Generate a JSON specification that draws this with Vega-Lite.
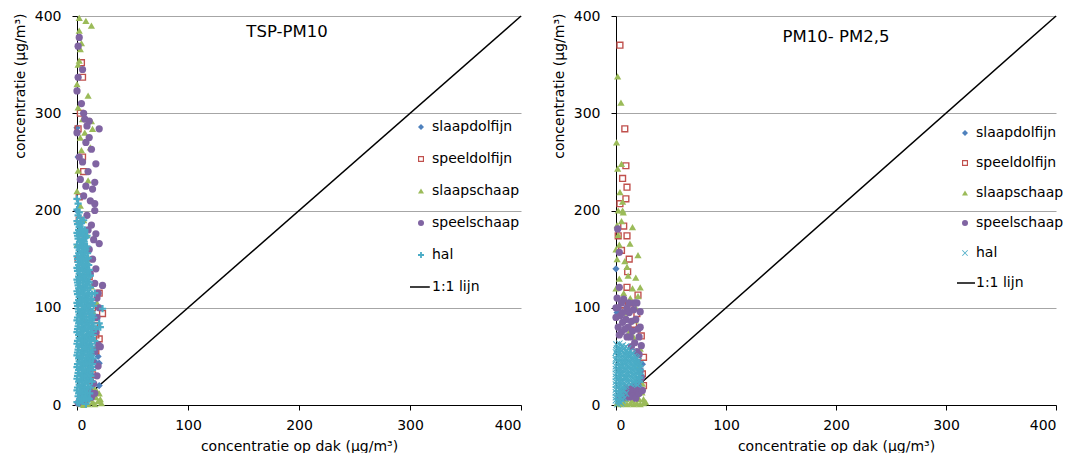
{
"$schema": "https://vega.github.io/schema/vega-lite/v6.json",
"padding": {"left": 13, "top": 9, "right": 5, "bottom": 0},
"background": "white",
"config": {
  "font": "DejaVu Sans",
  "view": {"stroke": null},
  "concat": {"spacing": 28},
  "axis": {"domainColor": "black", "tickColor": "black", "tickSize": 5, "labelFontSize": 14, "titleFontSize": 14, "titleFontWeight": "normal", "labelColor": "black", "titleColor": "black", "labelFont": "DejaVu Sans", "titleFont": "DejaVu Sans"},
  "legend": {"orient": "none", "title": null, "labelFont": "DejaVu Sans", "labelFontSize": 14, "labelColor": "black", "symbolSize": 36, "symbolStrokeWidth": 0, "padding": 0, "symbolOpacity": 1},
  "title": {"font": "DejaVu Sans", "fontWeight": "normal", "color": "black", "frame": "group"}
},
"datasets": {
"diag": [{"x": 0, "y": 0}, {"x": 400, "y": 400}],
"left": [
{"s":"slaapdolfijn","x":20,"y":20},{"s":"slaapdolfijn","x":20,"y":43},{"s":"slaapdolfijn","x":19,"y":50},{"s":"slaapdolfijn","x":17,"y":58},{"s":"slaapdolfijn","x":14,"y":30},{"s":"slaapdolfijn","x":1,"y":255},{"s":"slaapdolfijn","x":0,"y":285},{"s":"slaapdolfijn","x":10,"y":35},{"s":"slaapdolfijn","x":16,"y":45},{"s":"slaapdolfijn","x":5,"y":10},{"s":"slaapdolfijn","x":2,"y":140},{"s":"slaapdolfijn","x":0,"y":200},
{"s":"speeldolfijn","x":4,"y":352},{"s":"speeldolfijn","x":5,"y":337},{"s":"speeldolfijn","x":1,"y":284},{"s":"speeldolfijn","x":5,"y":255},{"s":"speeldolfijn","x":2,"y":214},{"s":"speeldolfijn","x":5,"y":176},{"s":"speeldolfijn","x":1,"y":150},{"s":"speeldolfijn","x":20,"y":115},{"s":"speeldolfijn","x":23,"y":94},{"s":"speeldolfijn","x":17,"y":72},{"s":"speeldolfijn","x":20,"y":68},{"s":"speeldolfijn","x":17,"y":56},{"s":"speeldolfijn","x":14,"y":31},{"s":"speeldolfijn","x":12,"y":25},{"s":"speeldolfijn","x":3,"y":300},{"s":"speeldolfijn","x":8,"y":160},{"s":"speeldolfijn","x":11,"y":132},{"s":"speeldolfijn","x":14,"y":100},{"s":"speeldolfijn","x":6,"y":240},{"s":"speeldolfijn","x":2,"y":190},{"s":"speeldolfijn","x":9,"y":88},{"s":"speeldolfijn","x":16,"y":82},
{"s":"slaapschaap","x":2,"y":398},{"s":"slaapschaap","x":8,"y":395},{"s":"slaapschaap","x":13,"y":390},{"s":"slaapschaap","x":2,"y":385},{"s":"slaapschaap","x":4,"y":372},{"s":"slaapschaap","x":3,"y":366},{"s":"slaapschaap","x":2,"y":354},{"s":"slaapschaap","x":10,"y":318},{"s":"slaapschaap","x":1,"y":306},{"s":"slaapschaap","x":5,"y":294},{"s":"slaapschaap","x":13,"y":292},{"s":"slaapschaap","x":14,"y":284},{"s":"slaapschaap","x":3,"y":275},{"s":"slaapschaap","x":1,"y":241},{"s":"slaapschaap","x":10,"y":231},{"s":"slaapschaap","x":4,"y":262},{"s":"slaapschaap","x":12,"y":265},{"s":"slaapschaap","x":7,"y":280},{"s":"slaapschaap","x":0,"y":330},{"s":"slaapschaap","x":1,"y":350},{"s":"slaapschaap","x":0,"y":220},{"s":"slaapschaap","x":3,"y":205},{"s":"slaapschaap","x":6,"y":190},{"s":"slaapschaap","x":9,"y":175},{"s":"slaapschaap","x":0,"y":165},{"s":"slaapschaap","x":11,"y":150},{"s":"slaapschaap","x":13,"y":122},{"s":"slaapschaap","x":18,"y":105},{"s":"slaapschaap","x":15,"y":95},{"s":"slaapschaap","x":20,"y":12},{"s":"slaapschaap","x":17,"y":8},{"s":"slaapschaap","x":22,"y":2},{"s":"slaapschaap","x":19,"y":4},{"s":"slaapschaap","x":14,"y":3},{"s":"slaapschaap","x":12,"y":6},{"s":"slaapschaap","x":16,"y":1},{"s":"slaapschaap","x":10,"y":1},{"s":"slaapschaap","x":8,"y":2},{"s":"slaapschaap","x":21,"y":6},{"s":"slaapschaap","x":18,"y":14},{"s":"slaapschaap","x":6,"y":0},{"s":"slaapschaap","x":3,"y":1},{"s":"slaapschaap","x":13,"y":10},{"s":"slaapschaap","x":15,"y":18},{"s":"slaapschaap","x":11,"y":40},{"s":"slaapschaap","x":12,"y":60},
{"s":"speelschaap","x":2,"y":378},{"s":"speelschaap","x":1,"y":369},{"s":"speelschaap","x":1,"y":337},{"s":"speelschaap","x":5,"y":345},{"s":"speelschaap","x":0,"y":323},{"s":"speelschaap","x":7,"y":294},{"s":"speelschaap","x":11,"y":292},{"s":"speelschaap","x":20,"y":284},{"s":"speelschaap","x":9,"y":287},{"s":"speelschaap","x":11,"y":275},{"s":"speelschaap","x":17,"y":248},{"s":"speelschaap","x":2,"y":255},{"s":"speelschaap","x":13,"y":263},{"s":"speelschaap","x":16,"y":229},{"s":"speelschaap","x":14,"y":222},{"s":"speelschaap","x":16,"y":207},{"s":"speelschaap","x":16,"y":200},{"s":"speelschaap","x":20,"y":166},{"s":"speelschaap","x":17,"y":176},{"s":"speelschaap","x":23,"y":123},{"s":"speelschaap","x":19,"y":115},{"s":"speelschaap","x":8,"y":270},{"s":"speelschaap","x":5,"y":250},{"s":"speelschaap","x":3,"y":232},{"s":"speelschaap","x":10,"y":240},{"s":"speelschaap","x":12,"y":210},{"s":"speelschaap","x":6,"y":215},{"s":"speelschaap","x":9,"y":195},{"s":"speelschaap","x":13,"y":185},{"s":"speelschaap","x":15,"y":170},{"s":"speelschaap","x":11,"y":160},{"s":"speelschaap","x":14,"y":150},{"s":"speelschaap","x":17,"y":140},{"s":"speelschaap","x":12,"y":135},{"s":"speelschaap","x":16,"y":125},{"s":"speelschaap","x":18,"y":110},{"s":"speelschaap","x":15,"y":90},{"s":"speelschaap","x":17,"y":75},{"s":"speelschaap","x":13,"y":68},{"s":"speelschaap","x":19,"y":62},{"s":"speelschaap","x":16,"y":55},{"s":"speelschaap","x":14,"y":45},{"s":"speelschaap","x":12,"y":38},{"s":"speelschaap","x":18,"y":30},{"s":"speelschaap","x":15,"y":22},{"s":"speelschaap","x":11,"y":15},{"s":"speelschaap","x":13,"y":8},{"s":"speelschaap","x":9,"y":12},{"s":"speelschaap","x":7,"y":5},{"s":"speelschaap","x":16,"y":12},{"s":"speelschaap","x":10,"y":28},{"s":"speelschaap","x":5,"y":18},{"s":"speelschaap","x":3,"y":8},{"s":"speelschaap","x":1,"y":2},{"s":"speelschaap","x":19,"y":40},{"s":"speelschaap","x":21,"y":60},{"s":"speelschaap","x":18,"y":90},{"s":"speelschaap","x":20,"y":100},{"s":"speelschaap","x":8,"y":225},{"s":"speelschaap","x":4,"y":310},{"s":"speelschaap","x":6,"y":300},{"s":"speelschaap","x":10,"y":180},{"s":"speelschaap","x":0,"y":280},
{"s":"hal","x":0,"y":212},{"s":"hal","x":1,"y":207},{"s":"hal","x":0,"y":201},{"s":"hal","x":2,"y":198},{"s":"hal","x":1,"y":195},{"s":"hal","x":3,"y":192},{"s":"hal","x":0,"y":189},{"s":"hal","x":4,"y":187},{"s":"hal","x":6,"y":190},{"s":"hal","x":2,"y":183},{"s":"hal","x":5,"y":181},{"s":"hal","x":0,"y":177},{"s":"hal","x":3,"y":176},{"s":"hal","x":7,"y":178},{"s":"hal","x":1,"y":171},{"s":"hal","x":5,"y":170},{"s":"hal","x":8,"y":172},{"s":"hal","x":0,"y":165},{"s":"hal","x":3,"y":164},{"s":"hal","x":6,"y":166},{"s":"hal","x":9,"y":163},{"s":"hal","x":2,"y":159},{"s":"hal","x":5,"y":158},{"s":"hal","x":8,"y":160},{"s":"hal","x":0,"y":153},{"s":"hal","x":4,"y":152},{"s":"hal","x":7,"y":154},{"s":"hal","x":10,"y":151},{"s":"hal","x":1,"y":147},{"s":"hal","x":3,"y":146},{"s":"hal","x":6,"y":148},{"s":"hal","x":9,"y":145},{"s":"hal","x":0,"y":141},{"s":"hal","x":4,"y":140},{"s":"hal","x":8,"y":142},{"s":"hal","x":11,"y":139},{"s":"hal","x":2,"y":135},{"s":"hal","x":5,"y":134},{"s":"hal","x":9,"y":136},{"s":"hal","x":12,"y":133},{"s":"hal","x":0,"y":129},{"s":"hal","x":3,"y":128},{"s":"hal","x":7,"y":130},{"s":"hal","x":10,"y":127},{"s":"hal","x":1,"y":123},{"s":"hal","x":5,"y":122},{"s":"hal","x":8,"y":124},{"s":"hal","x":12,"y":121},{"s":"hal","x":0,"y":117},{"s":"hal","x":4,"y":116},{"s":"hal","x":7,"y":118},{"s":"hal","x":11,"y":115},{"s":"hal","x":16,"y":115},{"s":"hal","x":2,"y":111},{"s":"hal","x":5,"y":110},{"s":"hal","x":9,"y":112},{"s":"hal","x":13,"y":109},{"s":"hal","x":0,"y":105},{"s":"hal","x":3,"y":104},{"s":"hal","x":7,"y":106},{"s":"hal","x":10,"y":103},{"s":"hal","x":14,"y":105},{"s":"hal","x":1,"y":99},{"s":"hal","x":5,"y":98},{"s":"hal","x":8,"y":100},{"s":"hal","x":12,"y":97},{"s":"hal","x":23,"y":99},{"s":"hal","x":2,"y":93},{"s":"hal","x":4,"y":92},{"s":"hal","x":7,"y":94},{"s":"hal","x":11,"y":91},{"s":"hal","x":14,"y":93},{"s":"hal","x":0,"y":87},{"s":"hal","x":3,"y":86},{"s":"hal","x":6,"y":88},{"s":"hal","x":9,"y":85},{"s":"hal","x":13,"y":87},{"s":"hal","x":20,"y":84},{"s":"hal","x":1,"y":81},{"s":"hal","x":5,"y":80},{"s":"hal","x":8,"y":82},{"s":"hal","x":12,"y":79},{"s":"hal","x":15,"y":81},{"s":"hal","x":21,"y":80},{"s":"hal","x":0,"y":75},{"s":"hal","x":3,"y":74},{"s":"hal","x":6,"y":76},{"s":"hal","x":10,"y":73},{"s":"hal","x":13,"y":75},{"s":"hal","x":2,"y":69},{"s":"hal","x":4,"y":68},{"s":"hal","x":8,"y":70},{"s":"hal","x":11,"y":67},{"s":"hal","x":14,"y":69},{"s":"hal","x":0,"y":63},{"s":"hal","x":3,"y":62},{"s":"hal","x":6,"y":64},{"s":"hal","x":9,"y":61},{"s":"hal","x":12,"y":63},{"s":"hal","x":1,"y":57},{"s":"hal","x":5,"y":56},{"s":"hal","x":8,"y":58},{"s":"hal","x":11,"y":55},{"s":"hal","x":14,"y":57},{"s":"hal","x":0,"y":51},{"s":"hal","x":3,"y":50},{"s":"hal","x":6,"y":52},{"s":"hal","x":10,"y":49},{"s":"hal","x":13,"y":51},{"s":"hal","x":2,"y":45},{"s":"hal","x":4,"y":44},{"s":"hal","x":7,"y":46},{"s":"hal","x":9,"y":43},{"s":"hal","x":12,"y":45},{"s":"hal","x":0,"y":39},{"s":"hal","x":3,"y":38},{"s":"hal","x":6,"y":40},{"s":"hal","x":10,"y":37},{"s":"hal","x":13,"y":39},{"s":"hal","x":1,"y":33},{"s":"hal","x":5,"y":32},{"s":"hal","x":8,"y":34},{"s":"hal","x":11,"y":31},{"s":"hal","x":0,"y":27},{"s":"hal","x":3,"y":26},{"s":"hal","x":6,"y":28},{"s":"hal","x":9,"y":25},{"s":"hal","x":12,"y":27},{"s":"hal","x":2,"y":21},{"s":"hal","x":4,"y":20},{"s":"hal","x":7,"y":22},{"s":"hal","x":10,"y":19},{"s":"hal","x":0,"y":15},{"s":"hal","x":3,"y":14},{"s":"hal","x":6,"y":16},{"s":"hal","x":9,"y":13},{"s":"hal","x":1,"y":9},{"s":"hal","x":4,"y":8},{"s":"hal","x":7,"y":10},{"s":"hal","x":10,"y":7},{"s":"hal","x":0,"y":3},{"s":"hal","x":2,"y":2},{"s":"hal","x":5,"y":4},{"s":"hal","x":8,"y":1},
{"s":"hal","x":2.5,"y":6},{"s":"hal","x":5.5,"y":6},{"s":"hal","x":8.5,"y":6},{"s":"hal","x":11,"y":6},
{"s":"hal","x":1.5,"y":12},{"s":"hal","x":4.5,"y":12},{"s":"hal","x":7.5,"y":12},{"s":"hal","x":11.5,"y":12},
{"s":"hal","x":0.5,"y":18},{"s":"hal","x":3.5,"y":18},{"s":"hal","x":6.5,"y":18},{"s":"hal","x":9.5,"y":18},{"s":"hal","x":12,"y":18},
{"s":"hal","x":1.5,"y":24},{"s":"hal","x":4.5,"y":24},{"s":"hal","x":7.5,"y":24},{"s":"hal","x":10.5,"y":24},{"s":"hal","x":13.5,"y":24},
{"s":"hal","x":0.5,"y":30},{"s":"hal","x":3.5,"y":30},{"s":"hal","x":6.5,"y":30},{"s":"hal","x":9.5,"y":30},{"s":"hal","x":12.5,"y":30},
{"s":"hal","x":1.5,"y":36},{"s":"hal","x":4.5,"y":36},{"s":"hal","x":7.5,"y":36},{"s":"hal","x":11.5,"y":36},{"s":"hal","x":14,"y":36},
{"s":"hal","x":0.5,"y":42},{"s":"hal","x":3.5,"y":42},{"s":"hal","x":5.5,"y":42},{"s":"hal","x":8.5,"y":42},{"s":"hal","x":11,"y":42},{"s":"hal","x":14,"y":42},
{"s":"hal","x":1.5,"y":48},{"s":"hal","x":4.5,"y":48},{"s":"hal","x":8,"y":48},{"s":"hal","x":11.5,"y":48},{"s":"hal","x":14.5,"y":48},
{"s":"hal","x":0.5,"y":54},{"s":"hal","x":3.5,"y":54},{"s":"hal","x":6.5,"y":54},{"s":"hal","x":9.5,"y":54},{"s":"hal","x":12.5,"y":54},
{"s":"hal","x":1.5,"y":60},{"s":"hal","x":4.5,"y":60},{"s":"hal","x":7.5,"y":60},{"s":"hal","x":10.5,"y":60},{"s":"hal","x":13.5,"y":60},
{"s":"hal","x":0.5,"y":66},{"s":"hal","x":3.5,"y":66},{"s":"hal","x":6.5,"y":66},{"s":"hal","x":9.5,"y":66},{"s":"hal","x":12.5,"y":66},{"s":"hal","x":16,"y":66},
{"s":"hal","x":1.5,"y":72},{"s":"hal","x":4.5,"y":72},{"s":"hal","x":8.5,"y":72},{"s":"hal","x":11.5,"y":72},{"s":"hal","x":14.5,"y":72},
{"s":"hal","x":0.5,"y":78},{"s":"hal","x":3.5,"y":78},{"s":"hal","x":6.5,"y":78},{"s":"hal","x":10,"y":78},{"s":"hal","x":13.5,"y":78},{"s":"hal","x":17,"y":78},
{"s":"hal","x":1.5,"y":84},{"s":"hal","x":4.5,"y":84},{"s":"hal","x":7.5,"y":84},{"s":"hal","x":11,"y":84},{"s":"hal","x":14,"y":84},
{"s":"hal","x":0.5,"y":90},{"s":"hal","x":3.5,"y":90},{"s":"hal","x":5.5,"y":90},{"s":"hal","x":8.5,"y":90},{"s":"hal","x":12,"y":90},{"s":"hal","x":15,"y":90},
{"s":"hal","x":1.5,"y":96},{"s":"hal","x":3.5,"y":96},{"s":"hal","x":6.5,"y":96},{"s":"hal","x":10,"y":96},{"s":"hal","x":13.5,"y":96},
{"s":"hal","x":0.5,"y":102},{"s":"hal","x":4.5,"y":102},{"s":"hal","x":8.5,"y":102},{"s":"hal","x":11.5,"y":102},{"s":"hal","x":15,"y":102},
{"s":"hal","x":1.5,"y":108},{"s":"hal","x":3.5,"y":108},{"s":"hal","x":7.5,"y":108},{"s":"hal","x":10.5,"y":108},{"s":"hal","x":12,"y":108},
{"s":"hal","x":0.5,"y":114},{"s":"hal","x":2.5,"y":114},{"s":"hal","x":6.5,"y":114},{"s":"hal","x":9.5,"y":114},{"s":"hal","x":13.5,"y":114},
{"s":"hal","x":1.5,"y":120},{"s":"hal","x":3.5,"y":120},{"s":"hal","x":6.5,"y":120},{"s":"hal","x":9.5,"y":120},
{"s":"hal","x":0.5,"y":126},{"s":"hal","x":2.5,"y":126},{"s":"hal","x":5.5,"y":126},{"s":"hal","x":8.5,"y":126},{"s":"hal","x":11,"y":126},
{"s":"hal","x":1.5,"y":132},{"s":"hal","x":3.5,"y":132},{"s":"hal","x":6.5,"y":132},{"s":"hal","x":10.5,"y":132},
{"s":"hal","x":0.5,"y":138},{"s":"hal","x":2.5,"y":138},{"s":"hal","x":6.5,"y":138},{"s":"hal","x":9.5,"y":138},
{"s":"hal","x":1.5,"y":144},{"s":"hal","x":5.5,"y":144},{"s":"hal","x":7.5,"y":144},{"s":"hal","x":10.5,"y":144},
{"s":"hal","x":0.5,"y":150},{"s":"hal","x":2.5,"y":150},{"s":"hal","x":5.5,"y":150},{"s":"hal","x":8.5,"y":150},
{"s":"hal","x":1.5,"y":156},{"s":"hal","x":3.5,"y":156},{"s":"hal","x":6.5,"y":156},{"s":"hal","x":9.5,"y":156},
{"s":"hal","x":0.5,"y":162},{"s":"hal","x":4.5,"y":162},{"s":"hal","x":7.5,"y":162},
{"s":"hal","x":2.5,"y":168},{"s":"hal","x":3.5,"y":168},{"s":"hal","x":6.5,"y":168},
{"s":"hal","x":0.5,"y":174},{"s":"hal","x":2,"y":174},{"s":"hal","x":5,"y":174},{"s":"hal","x":9,"y":174},
{"s":"hal","x":1.5,"y":180},{"s":"hal","x":3.5,"y":180},{"s":"hal","x":7,"y":180},
{"s":"hal","x":0.5,"y":186},{"s":"hal","x":2.5,"y":186}
],
"right": [
{"s":"slaapdolfijn","x":0,"y":140},{"s":"slaapdolfijn","x":23,"y":30},{"s":"slaapdolfijn","x":20,"y":10},{"s":"slaapdolfijn","x":1,"y":95},{"s":"slaapdolfijn","x":24,"y":42},
{"s":"speeldolfijn","x":3.6,"y":370},{"s":"speeldolfijn","x":8,"y":284},{"s":"speeldolfijn","x":9,"y":246},{"s":"speeldolfijn","x":6,"y":233},{"s":"speeldolfijn","x":10,"y":224},{"s":"speeldolfijn","x":9,"y":212},{"s":"speeldolfijn","x":3.6,"y":207},{"s":"speeldolfijn","x":7,"y":184},{"s":"speeldolfijn","x":10,"y":174},{"s":"speeldolfijn","x":2,"y":174},{"s":"speeldolfijn","x":5,"y":159},{"s":"speeldolfijn","x":10.6,"y":137},{"s":"speeldolfijn","x":10,"y":121},{"s":"speeldolfijn","x":20,"y":113},{"s":"speeldolfijn","x":13,"y":99},{"s":"speeldolfijn","x":19,"y":94},{"s":"speeldolfijn","x":16,"y":83},{"s":"speeldolfijn","x":23,"y":71},{"s":"speeldolfijn","x":25,"y":49},{"s":"speeldolfijn","x":24,"y":32},{"s":"speeldolfijn","x":25,"y":20},{"s":"speeldolfijn","x":12,"y":150},{"s":"speeldolfijn","x":6,"y":103},
{"s":"slaapschaap","x":1.5,"y":338},{"s":"slaapschaap","x":4.5,"y":311},{"s":"slaapschaap","x":0.5,"y":270},{"s":"slaapschaap","x":1.5,"y":243},{"s":"slaapschaap","x":5,"y":248},{"s":"slaapschaap","x":3.6,"y":219},{"s":"slaapschaap","x":6,"y":209},{"s":"slaapschaap","x":6.6,"y":198},{"s":"slaapschaap","x":5,"y":189},{"s":"slaapschaap","x":15,"y":183},{"s":"slaapschaap","x":12.7,"y":166},{"s":"slaapschaap","x":20,"y":154},{"s":"slaapschaap","x":0,"y":160},{"s":"slaapschaap","x":8,"y":148},{"s":"slaapschaap","x":11,"y":133},{"s":"slaapschaap","x":18,"y":131},{"s":"slaapschaap","x":22,"y":121},{"s":"slaapschaap","x":20,"y":112},{"s":"slaapschaap","x":17.6,"y":87},{"s":"slaapschaap","x":16,"y":70},{"s":"slaapschaap","x":23.6,"y":13},{"s":"slaapschaap","x":25,"y":6},{"s":"slaapschaap","x":2,"y":175},{"s":"slaapschaap","x":1,"y":150},{"s":"slaapschaap","x":3,"y":130},{"s":"slaapschaap","x":0,"y":120},{"s":"slaapschaap","x":7,"y":115},{"s":"slaapschaap","x":4,"y":105},{"s":"slaapschaap","x":9,"y":95},{"s":"slaapschaap","x":13,"y":110},{"s":"slaapschaap","x":15,"y":120},{"s":"slaapschaap","x":1,"y":185},{"s":"slaapschaap","x":2,"y":200},{"s":"slaapschaap","x":18,"y":100},{"s":"slaapschaap","x":20,"y":80},{"s":"slaapschaap","x":12,"y":75},{"s":"slaapschaap","x":22,"y":58},{"s":"slaapschaap","x":21,"y":40},{"s":"slaapschaap","x":19,"y":25},{"s":"slaapschaap","x":24,"y":22},{"s":"slaapschaap","x":1,"y":2},{"s":"slaapschaap","x":4,"y":1},{"s":"slaapschaap","x":7,"y":2},{"s":"slaapschaap","x":10,"y":1},{"s":"slaapschaap","x":13,"y":2},{"s":"slaapschaap","x":16,"y":1},{"s":"slaapschaap","x":19,"y":2},{"s":"slaapschaap","x":22,"y":1},{"s":"slaapschaap","x":25,"y":2},{"s":"slaapschaap","x":27,"y":3},{"s":"slaapschaap","x":3,"y":5},{"s":"slaapschaap","x":9,"y":6},{"s":"slaapschaap","x":15,"y":5},{"s":"slaapschaap","x":21,"y":6},{"s":"slaapschaap","x":12,"y":16},{"s":"slaapschaap","x":8,"y":12},{"s":"slaapschaap","x":6,"y":200},{"s":"slaapschaap","x":3,"y":165},{"s":"slaapschaap","x":10,"y":142},
{"s":"speelschaap","x":1.5,"y":181},{"s":"speelschaap","x":3,"y":157},{"s":"speelschaap","x":3,"y":121},{"s":"speelschaap","x":7,"y":109},{"s":"speelschaap","x":5,"y":105},{"s":"speelschaap","x":19,"y":105},{"s":"speelschaap","x":22,"y":96},{"s":"speelschaap","x":20,"y":78},{"s":"speelschaap","x":21,"y":70},{"s":"speelschaap","x":23,"y":61},{"s":"speelschaap","x":21,"y":52},{"s":"speelschaap","x":20,"y":44},{"s":"speelschaap","x":16,"y":20},{"s":"speelschaap","x":11,"y":13},{"s":"speelschaap","x":7,"y":8},{"s":"speelschaap","x":1,"y":110},{"s":"speelschaap","x":2,"y":100},{"s":"speelschaap","x":0,"y":90},{"s":"speelschaap","x":4,"y":92},{"s":"speelschaap","x":6,"y":85},{"s":"speelschaap","x":9,"y":88},{"s":"speelschaap","x":12,"y":95},{"s":"speelschaap","x":11,"y":80},{"s":"speelschaap","x":14,"y":86},{"s":"speelschaap","x":16,"y":98},{"s":"speelschaap","x":18,"y":88},{"s":"speelschaap","x":2,"y":80},{"s":"speelschaap","x":5,"y":75},{"s":"speelschaap","x":8,"y":78},{"s":"speelschaap","x":13,"y":70},{"s":"speelschaap","x":15,"y":76},{"s":"speelschaap","x":17,"y":64},{"s":"speelschaap","x":19,"y":55},{"s":"speelschaap","x":22,"y":35},{"s":"speelschaap","x":23,"y":28},{"s":"speelschaap","x":20,"y":20},{"s":"speelschaap","x":18,"y":12},{"s":"speelschaap","x":14,"y":10},{"s":"speelschaap","x":9,"y":17},{"s":"speelschaap","x":5,"y":14},{"s":"speelschaap","x":3,"y":9},{"s":"speelschaap","x":21,"y":26},{"s":"speelschaap","x":17,"y":105},{"s":"speelschaap","x":10,"y":100},{"s":"speelschaap","x":0,"y":100},{"s":"speelschaap","x":6,"y":95},{"s":"speelschaap","x":3,"y":72},{"s":"speelschaap","x":10,"y":70},{"s":"speelschaap","x":14,"y":60},{"s":"speelschaap","x":22,"y":80},{"s":"speelschaap","x":12,"y":105},{"s":"speelschaap","x":10,"y":15},{"s":"speelschaap","x":13,"y":16},{"s":"speelschaap","x":16,"y":14},{"s":"speelschaap","x":19,"y":16},{"s":"speelschaap","x":12,"y":8},{"s":"speelschaap","x":15,"y":9},{"s":"speelschaap","x":18,"y":7},{"s":"speelschaap","x":21,"y":12},{"s":"speelschaap","x":24,"y":15},
{"s":"hal","x":0.5,"y":62},{"s":"hal","x":3,"y":63},{"s":"hal","x":6,"y":61},{"s":"hal","x":9,"y":60},
{"s":"hal","x":1,"y":58},{"s":"hal","x":4,"y":57},{"s":"hal","x":7,"y":58},{"s":"hal","x":10,"y":56},{"s":"hal","x":13,"y":55},
{"s":"hal","x":0,"y":54},{"s":"hal","x":3,"y":53},{"s":"hal","x":6,"y":54},{"s":"hal","x":9,"y":52},{"s":"hal","x":12,"y":51},{"s":"hal","x":15,"y":52},{"s":"hal","x":18,"y":49},
{"s":"hal","x":1.5,"y":50},{"s":"hal","x":4.5,"y":49},{"s":"hal","x":7.5,"y":48},{"s":"hal","x":10.5,"y":47},{"s":"hal","x":13.5,"y":48},{"s":"hal","x":16.5,"y":46},{"s":"hal","x":19.5,"y":45},
{"s":"hal","x":0,"y":46},{"s":"hal","x":3,"y":45},{"s":"hal","x":6,"y":44},{"s":"hal","x":9,"y":43},{"s":"hal","x":12,"y":44},{"s":"hal","x":15,"y":42},{"s":"hal","x":18,"y":43},{"s":"hal","x":21,"y":41},
{"s":"hal","x":1.5,"y":41},{"s":"hal","x":4.5,"y":40},{"s":"hal","x":7.5,"y":39},{"s":"hal","x":10.5,"y":40},{"s":"hal","x":13.5,"y":38},{"s":"hal","x":16.5,"y":39},{"s":"hal","x":19.5,"y":37},{"s":"hal","x":22,"y":38},
{"s":"hal","x":0,"y":37},{"s":"hal","x":3,"y":36},{"s":"hal","x":6,"y":35},{"s":"hal","x":9,"y":36},{"s":"hal","x":12,"y":34},{"s":"hal","x":15,"y":35},{"s":"hal","x":18,"y":33},{"s":"hal","x":21,"y":34},
{"s":"hal","x":1.5,"y":33},{"s":"hal","x":4.5,"y":32},{"s":"hal","x":7.5,"y":31},{"s":"hal","x":10.5,"y":32},{"s":"hal","x":13.5,"y":30},{"s":"hal","x":16.5,"y":31},{"s":"hal","x":19.5,"y":29},{"s":"hal","x":22,"y":30},
{"s":"hal","x":0,"y":29},{"s":"hal","x":3,"y":28},{"s":"hal","x":6,"y":27},{"s":"hal","x":9,"y":28},{"s":"hal","x":12,"y":26},{"s":"hal","x":15,"y":27},{"s":"hal","x":18,"y":25},{"s":"hal","x":21,"y":26},
{"s":"hal","x":1.5,"y":25},{"s":"hal","x":4.5,"y":24},{"s":"hal","x":7.5,"y":23},{"s":"hal","x":10.5,"y":24},{"s":"hal","x":13.5,"y":22},{"s":"hal","x":16.5,"y":23},{"s":"hal","x":19.5,"y":21},
{"s":"hal","x":0,"y":21},{"s":"hal","x":3,"y":20},{"s":"hal","x":6,"y":19},{"s":"hal","x":9,"y":20},
{"s":"hal","x":1.5,"y":17},{"s":"hal","x":4.5,"y":16},{"s":"hal","x":7.5,"y":15},
{"s":"hal","x":0,"y":13},{"s":"hal","x":3,"y":12},{"s":"hal","x":6,"y":11},{"s":"hal","x":9,"y":12},
{"s":"hal","x":1.5,"y":9},{"s":"hal","x":4.5,"y":8},{"s":"hal","x":7.5,"y":7},
{"s":"hal","x":0,"y":5},{"s":"hal","x":3,"y":4},{"s":"hal","x":6,"y":5},
{"s":"hal","x":1.5,"y":1},{"s":"hal","x":4.5,"y":2},
{"s":"hal","x":2,"y":60},{"s":"hal","x":5,"y":60},{"s":"hal","x":8,"y":59},{"s":"hal","x":11,"y":58},
{"s":"hal","x":0.5,"y":56},{"s":"hal","x":2.5,"y":56},{"s":"hal","x":5.5,"y":56},{"s":"hal","x":8.5,"y":55},{"s":"hal","x":11.5,"y":54},{"s":"hal","x":15,"y":54},
{"s":"hal","x":1.5,"y":52},{"s":"hal","x":4.5,"y":52},{"s":"hal","x":7.5,"y":52},{"s":"hal","x":10.5,"y":51},{"s":"hal","x":13.5,"y":51},{"s":"hal","x":16.5,"y":50},{"s":"hal","x":19,"y":48},
{"s":"hal","x":0,"y":48},{"s":"hal","x":3,"y":48},{"s":"hal","x":6,"y":48},{"s":"hal","x":9,"y":48},{"s":"hal","x":12,"y":47},{"s":"hal","x":15,"y":47},{"s":"hal","x":18,"y":46},{"s":"hal","x":20.5,"y":45},
{"s":"hal","x":1.5,"y":44},{"s":"hal","x":4.5,"y":44},{"s":"hal","x":7.5,"y":44},{"s":"hal","x":10.5,"y":44},{"s":"hal","x":13.5,"y":43},{"s":"hal","x":16.5,"y":43},{"s":"hal","x":19.5,"y":42},{"s":"hal","x":22,"y":42},
{"s":"hal","x":0,"y":40},{"s":"hal","x":3,"y":40},{"s":"hal","x":6,"y":40},{"s":"hal","x":9,"y":40},{"s":"hal","x":12,"y":40},{"s":"hal","x":15,"y":39},{"s":"hal","x":18,"y":39},{"s":"hal","x":21,"y":38},
{"s":"hal","x":1.5,"y":36},{"s":"hal","x":4.5,"y":36},{"s":"hal","x":7.5,"y":36},{"s":"hal","x":10.5,"y":36},{"s":"hal","x":13.5,"y":35},{"s":"hal","x":16.5,"y":35},{"s":"hal","x":19.5,"y":34},{"s":"hal","x":22.5,"y":34},
{"s":"hal","x":0,"y":32},{"s":"hal","x":3,"y":32},{"s":"hal","x":6,"y":32},{"s":"hal","x":9,"y":32},{"s":"hal","x":12,"y":31},{"s":"hal","x":15,"y":31},{"s":"hal","x":18,"y":30},{"s":"hal","x":21,"y":30},
{"s":"hal","x":1.5,"y":28},{"s":"hal","x":4.5,"y":28},{"s":"hal","x":7.5,"y":28},{"s":"hal","x":10.5,"y":28},{"s":"hal","x":13.5,"y":27},{"s":"hal","x":16.5,"y":27},{"s":"hal","x":19.5,"y":26},{"s":"hal","x":22,"y":26},
{"s":"hal","x":0,"y":24},{"s":"hal","x":3,"y":24},{"s":"hal","x":6,"y":24},{"s":"hal","x":9,"y":24},{"s":"hal","x":12,"y":23},{"s":"hal","x":15,"y":23},{"s":"hal","x":18,"y":22},{"s":"hal","x":21,"y":22},
{"s":"hal","x":1.5,"y":20},{"s":"hal","x":4.5,"y":20},{"s":"hal","x":7.5,"y":19},
{"s":"hal","x":0,"y":16},{"s":"hal","x":3,"y":16},{"s":"hal","x":6,"y":15},
{"s":"hal","x":1.5,"y":12},{"s":"hal","x":4.5,"y":12},
{"s":"hal","x":0,"y":8},{"s":"hal","x":3,"y":8},
{"s":"hal","x":1.5,"y":4}
]
},
"resolve": {"scale": {"color": "independent", "shape": "independent", "x": "independent", "y": "independent"}, "legend": {"color": "independent", "shape": "independent"}},
"hconcat": [
{
  "width": 444, "height": 389,
  "title": {"text": "TSP-PM10", "anchor": "middle", "offset": -39, "dx": -12, "fontSize": 16.5, "baseline": "middle", "orient": "top"},
  "layer": [
    {"data": {"name": "diag"}, "mark": {"type": "line", "color": "black", "strokeWidth": 1.5, "clip": false},
     "encoding": {
       "x": {"field": "x", "type": "quantitative", "scale": {"domain": [0, 400], "nice": false}, "axis": {"title": "concentratie op dak (µg/m³)", "values": [0, 100, 200, 300, 400], "grid": false, "labelPadding": 8, "titlePadding": 7}},
       "y": {"field": "y", "type": "quantitative", "scale": {"domain": [0, 400], "nice": false}, "axis": {"title": "concentratie (µg/m³)", "titleAnchor": "end", "titleY": -3, "values": [0, 100, 200, 300, 400], "grid": true, "gridColor": "#A6A6A6", "labelPadding": 11, "titlePadding": 7}}
     }},
    {"data": {"name": "left"}, "mark": {"type": "point", "filled": true, "opacity": 1, "size": 52},
     "encoding": {
       "x": {"field": "x", "type": "quantitative"},
       "y": {"field": "y", "type": "quantitative"},
       "color": {"field": "s", "type": "nominal", "sort": null,
         "scale": {"domain": ["slaapdolfijn", "speeldolfijn", "slaapschaap", "speelschaap", "hal", "1:1 lijn"], "range": ["#4F81BD", "#C0504D", "#9BBB59", "#8064A2", "#4BACC6", "#000000"]},
         "legend": {"legendX": 337, "legendY": 104, "rowPadding": 18, "labelOffset": 4}},
       "shape": {"field": "s", "type": "nominal", "sort": null,
         "scale": {"domain": ["slaapdolfijn", "speeldolfijn", "slaapschaap", "speelschaap", "hal", "1:1 lijn"], "range": ["diamond", "M-1,-1H1V1H-1Z M-0.62,-0.62V0.62H0.62V-0.62Z", "triangle-up", "circle", "M-1,-0.3H1V0.3H-1Z M-0.3,-1H0.3V1H-0.3Z", "M-3.67,-0.25H2.93V0.25H-3.67Z"]},
         "legend": {"legendX": 337, "legendY": 104, "rowPadding": 18, "labelOffset": 4}}
     }}
  ]
},
{
  "width": 440, "height": 389,
  "title": {"text": "PM10- PM2,5", "anchor": "middle", "offset": -44, "dx": 0, "fontSize": 16.5, "baseline": "middle", "orient": "top"},
  "layer": [
    {"data": {"name": "diag"}, "mark": {"type": "line", "color": "black", "strokeWidth": 1.5, "clip": false},
     "encoding": {
       "x": {"field": "x", "type": "quantitative", "scale": {"domain": [0, 400], "nice": false}, "axis": {"title": "concentratie op dak (µg/m³)", "values": [0, 100, 200, 300, 400], "grid": false, "labelPadding": 8, "titlePadding": 7}},
       "y": {"field": "y", "type": "quantitative", "scale": {"domain": [0, 400], "nice": false}, "axis": {"title": "concentratie (µg/m³)", "titleAnchor": "end", "titleY": -3, "values": [0, 100, 200, 300, 400], "grid": true, "gridColor": "#A6A6A6", "labelPadding": 11, "titlePadding": 7}}
     }},
    {"data": {"name": "right"}, "mark": {"type": "point", "filled": true, "opacity": 1, "size": 52},
     "encoding": {
       "x": {"field": "x", "type": "quantitative"},
       "y": {"field": "y", "type": "quantitative"},
       "color": {"field": "s", "type": "nominal", "sort": null,
         "scale": {"domain": ["slaapdolfijn", "speeldolfijn", "slaapschaap", "speelschaap", "hal", "1:1 lijn"], "range": ["#4F81BD", "#C0504D", "#9BBB59", "#8064A2", "#4BACC6", "#000000"]},
         "legend": {"legendX": 342, "legendY": 110, "rowPadding": 16, "labelOffset": 4}},
       "shape": {"field": "s", "type": "nominal", "sort": null,
         "scale": {"domain": ["slaapdolfijn", "speeldolfijn", "slaapschaap", "speelschaap", "hal", "1:1 lijn"], "range": ["diamond", "M-1,-1H1V1H-1Z M-0.62,-0.62V0.62H0.62V-0.62Z", "triangle-up", "circle", "M-0.8,-1L1,0.8L0.8,1L-1,-0.8Z M0.8,-1L1,-0.8L-0.8,1L-1,0.8Z", "M-2.67,-0.25H3.33V0.25H-2.67Z"]},
         "legend": {"legendX": 342, "legendY": 110, "rowPadding": 16, "labelOffset": 4}}
     }}
  ]
}
]
}
